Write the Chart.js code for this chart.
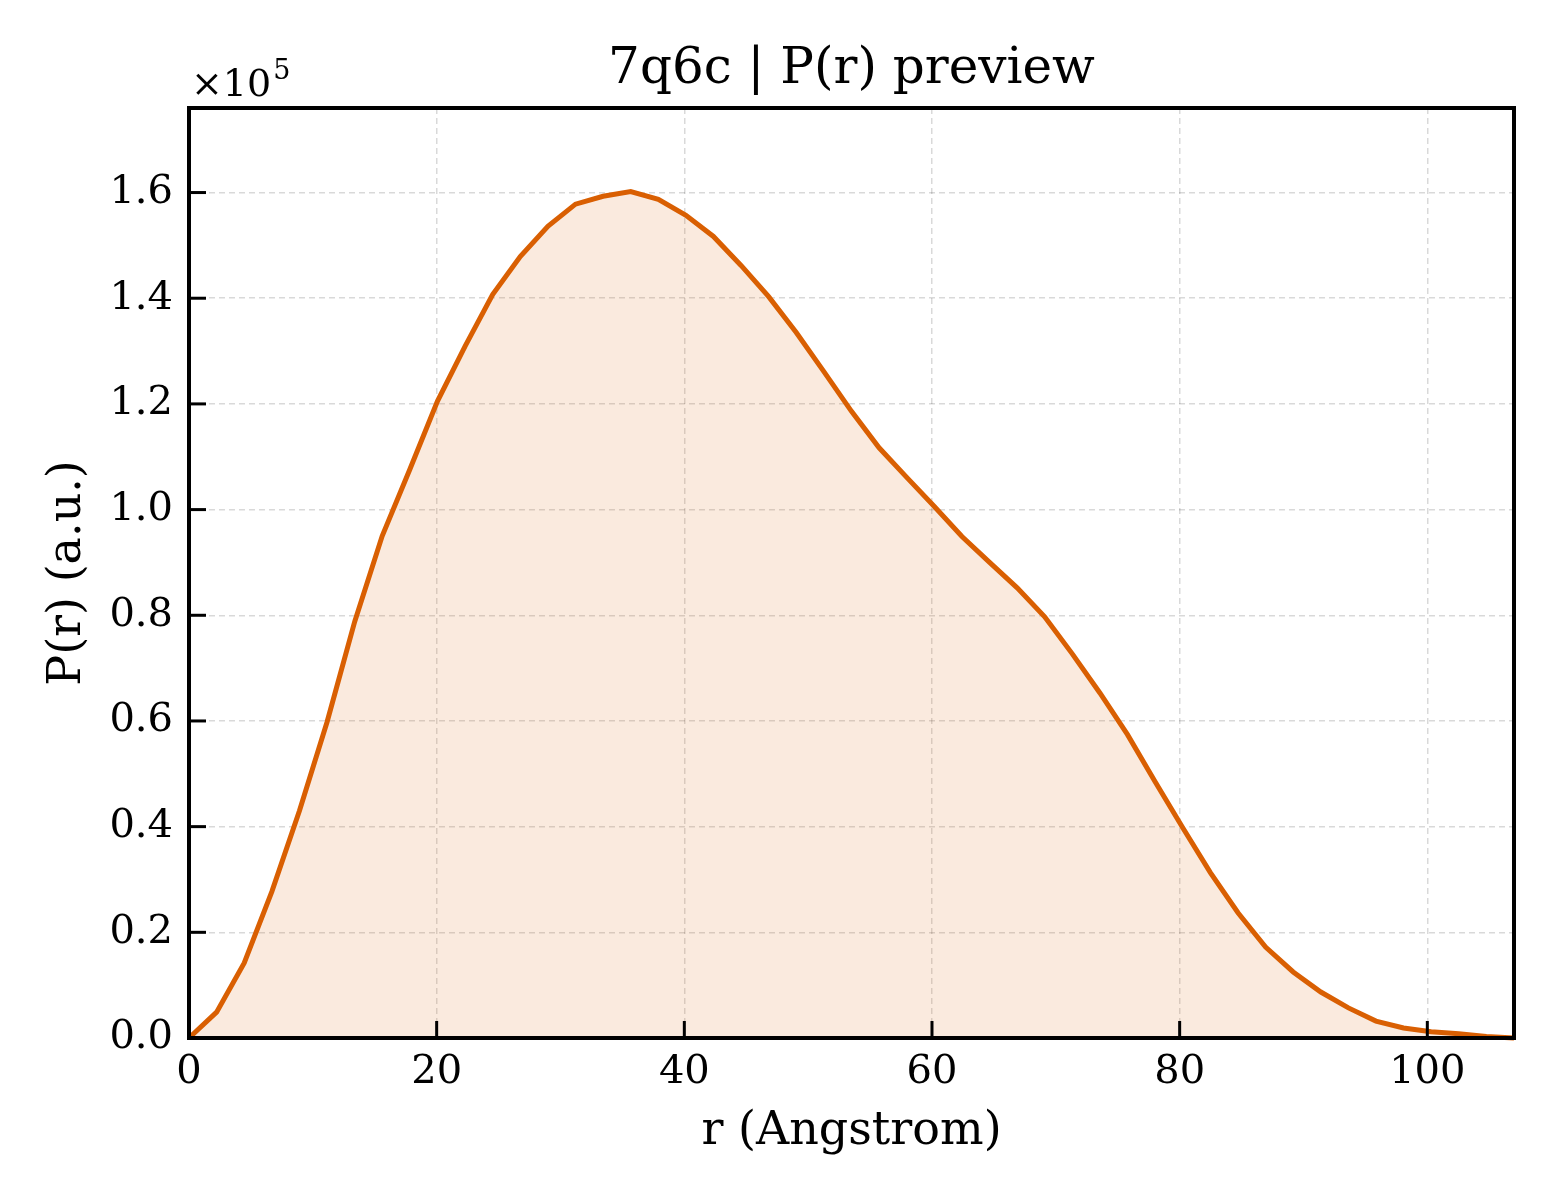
<!DOCTYPE html>
<html lang="en">
<head>
  <meta charset="UTF-8">
  <title>7q6c | P(r) preview</title>
  <script src="https://cdn.jsdelivr.net/npm/chart.js"></script>
  <style>
    html, body {
      margin: 0;
      padding: 0;
      background: #ffffff;
    }
    #wrap {
      width: 1560px;
      height: 1200px;
    }
  </style>
</head>
<body>
  <div id="wrap"><canvas id="prChart" width="1560" height="1200"></canvas></div>

  <script>
    // r in Angstrom, P(r) in arbitrary units
    const rValues = [
      0, 2.23, 4.46, 6.69, 8.92, 11.15, 13.38, 15.6, 17.83, 20.06,
      22.29, 24.52, 26.75, 28.98, 31.21, 33.44, 35.67, 37.9, 40.13, 42.35,
      44.58, 46.81, 49.04, 51.27, 53.5, 55.73, 57.96, 60.19, 62.42, 64.65,
      66.88, 69.1, 71.33, 73.56, 75.79, 78.02, 80.25, 82.48, 84.71, 86.94,
      89.17, 91.4, 93.63, 95.85, 98.08, 100.31, 102.54, 104.77, 107.0
    ];
    const prValues = [
      0, 4900, 14200, 27700, 43000, 59800, 78800, 95000, 107600, 120500,
      130900, 140700, 147900, 153600, 157800, 159300, 160200, 158700, 155700, 151700,
      146200, 140300, 133500, 126100, 118600, 111700, 106100, 100600, 94900, 90000,
      85200, 79700, 72700, 65300, 57400, 48500, 39800, 31300, 23700, 17200,
      12500, 8700, 5700, 3200, 1900, 1200, 800, 300, 0
    ];
    const xTicks = [0, 20, 40, 60, 80, 100];
    const yTicks = [0, 20000, 40000, 60000, 80000, 100000, 120000, 140000, 160000];

    const lineColor = '#d95f02';
    const serif = '"DejaVu Serif", serif';

    // matplotlib-style frame, inward ticks and the x10^5 offset text
    const frameAndTicks = {
      id: 'frameAndTicks',
      afterDraw(chart) {
        const { ctx, chartArea: a, scales: { x, y } } = chart;
        ctx.save();
        ctx.strokeStyle = '#000000';
        ctx.lineWidth = 3;
        xTicks.forEach(v => {
          const px = x.getPixelForValue(v);
          ctx.beginPath();
          ctx.moveTo(px, a.bottom);
          ctx.lineTo(px, a.bottom - 17);
          ctx.stroke();
        });
        yTicks.forEach(v => {
          const py = y.getPixelForValue(v);
          ctx.beginPath();
          ctx.moveTo(a.left, py);
          ctx.lineTo(a.left + 17, py);
          ctx.stroke();
        });
        ctx.lineWidth = 4;
        ctx.strokeRect(a.left, a.top, a.right - a.left, a.bottom - a.top);

        ctx.fillStyle = '#000000';
        ctx.textBaseline = 'alphabetic';
        ctx.textAlign = 'left';
        ctx.font = '38px ' + serif;
        ctx.fillText('\u00d710', a.left + 2, a.top - 12);
        const w = ctx.measureText('\u00d710').width;
        ctx.font = '27px ' + serif;
        ctx.fillText('5', a.left + 4 + w, a.top - 29);
        ctx.restore();
      }
    };

    const ctx = document.getElementById('prChart').getContext('2d');

    new Chart(ctx, {
      type: 'line',
      data: {
        datasets: [{
          label: 'P(r)',
          data: rValues.map((r, i) => ({ x: r, y: prValues[i] })),
          borderColor: lineColor,
          backgroundColor: 'rgba(217, 95, 2, 0.13)',
          borderWidth: 5,
          fill: 'origin',
          pointRadius: 0,
          tension: 0,
          clip: false
        }]
      },
      options: {
        responsive: false,
        animation: false,
        devicePixelRatio: 1,
        layout: {
          padding: { left: 0, right: 46, top: 0, bottom: 0 }
        },
        plugins: {
          legend: { display: false },
          tooltip: { enabled: false },
          title: {
            display: true,
            fullSize: false,
            text: '7q6c | P(r) preview',
            color: '#000000',
            font: { family: serif, size: 50, weight: 'normal', lineHeight: 1.2 },
            padding: { top: 40, bottom: 8 }
          }
        },
        scales: {
          x: {
            type: 'linear',
            min: 0,
            max: 107,
            afterFit: scale => { scale.height = 162; },
            afterBuildTicks: scale => { scale.ticks = xTicks.map(v => ({ value: v })); },
            grid: {
              color: 'rgba(0, 0, 0, 0.15)',
              lineWidth: 1.5,
              drawTicks: false
            },
            border: { display: false, dash: [6, 4] },
            ticks: {
              color: '#000000',
              padding: 11,
              maxRotation: 0,
              font: { family: serif, size: 40, lineHeight: 1.2 }
            },
            title: {
              display: true,
              text: 'r (Angstrom)',
              color: '#000000',
              font: { family: serif, size: 46, lineHeight: 1.2 },
              padding: { top: 0, bottom: 40 }
            }
          },
          y: {
            type: 'linear',
            min: 0,
            max: 176000,
            afterFit: scale => { scale.width = 189; },
            afterBuildTicks: scale => { scale.ticks = yTicks.map(v => ({ value: v })); },
            grid: {
              color: 'rgba(0, 0, 0, 0.15)',
              lineWidth: 1.5,
              drawTicks: false
            },
            border: { display: false, dash: [6, 4] },
            ticks: {
              color: '#000000',
              padding: 16,
              font: { family: serif, size: 40, lineHeight: 1.2 },
              callback: value => (value / 1e5).toFixed(1)
            },
            title: {
              display: true,
              text: 'P(r) (a.u.)',
              color: '#000000',
              font: { family: serif, size: 46, lineHeight: 1.2 },
              padding: { top: 40, bottom: 0 }
            }
          }
        }
      },
      plugins: [frameAndTicks]
    });
  </script>
</body>
</html>
